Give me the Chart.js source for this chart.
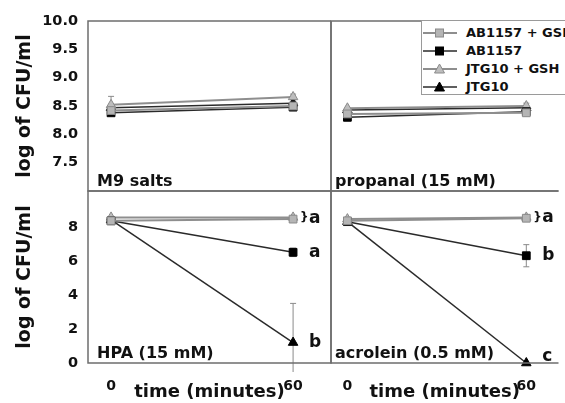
<!DOCTYPE html>
<html>
<head>
<meta charset="utf-8">
<script src="https://cdn.jsdelivr.net/npm/chart.js@4.4.1/dist/chart.umd.min.js"></script>
<style>
  body { margin: 0; background: #fff; }
  #wrap { position: relative; width: 565px; height: 403px; overflow: hidden; background: #fff; }
  #wrap canvas { position: absolute; left: 0; top: 0; }
  #legend {
    position: absolute; left: 421px; top: 20px; width: 170px; height: 75px;
    border: 1px solid #9a9a9a; background: #fff; padding-top: 3px; box-sizing: border-box;
    font: bold 13px "DejaVu Sans", sans-serif; color: #111;
  }
  #legend .row { position: relative; height: 18px; }
  #legend svg { position: absolute; left: 0; top: 0; }
  #legend span { position: absolute; left: 44px; top: 1px; white-space: nowrap; }
</style>
</head>
<body>
<div id="wrap">
  <canvas id="m9" width="565" height="403"></canvas>
  <canvas id="propanal" width="565" height="403"></canvas>
  <canvas id="hpa" width="565" height="403"></canvas>
  <canvas id="acrolein" width="565" height="403"></canvas>
  <div id="legend"></div>
</div>
<script>
// data: log CFU/ml at 0 and 60 minutes
const seriesNames = ['AB1157 + GSH', 'AB1157', 'JTG10 + GSH', 'JTG10'];
const times = [0, 60];

const m9Values = [[8.42, 8.50], [8.38, 8.48], [8.52, 8.66], [8.47, 8.55]];
const m9Errors = [[0, 0], [0, 0], [0.15, 0.05], [0, 0]];

const propanalValues = [[8.36, 8.38], [8.30, 8.40], [8.46, 8.50], [8.43, 8.47]];
const propanalErrors = [[0, 0], [0, 0], [0, 0.05], [0, 0]];

const hpaValues = [[8.35, 8.45], [8.35, 6.5], [8.55, 8.55], [8.4, 1.2]];
const hpaErrors = [[0, 0], [0, 0.25], [0, 0], [0, 2.3]];

const acroleinValues = [[8.35, 8.5], [8.3, 6.3], [8.45, 8.55], [8.3, 0]];
const acroleinErrors = [[0, 0], [0, 0.65], [0, 0], [0, 0]];

const hpaNoteText = ['} a', 'a', 'b'];
const hpaNoteY = [8.5, 6.5, 1.2];
const acroleinNoteText = ['} a', 'b', 'c'];
const acroleinNoteY = [8.55, 6.3, 0.4];

const topTicks = [7.5, 8.0, 8.5, 9.0, 9.5, 10.0];
const bottomTicks = [0, 2, 4, 6, 8];
const timeTicks = [0, 60];

const FONT = 'DejaVu Sans';
const INK = '#111';

const seriesStyle = [
  { line: '#8e8e8e', fill: '#b5b5b5', edge: '#8a8a8a', shape: 'rect', width: 2 },
  { line: '#2a2a2a', fill: '#000', edge: '#000', shape: 'rect', width: 1.5 },
  { line: '#8e8e8e', fill: '#bdbdbd', edge: '#8a8a8a', shape: 'triangle', width: 2 },
  { line: '#2a2a2a', fill: '#000', edge: '#000', shape: 'triangle', width: 1.5 },
];

// borders, error bars, panel name and letters
const panelPlugin = {
  id: 'panel',
  beforeDatasetsDraw(chart, args, opts) {
    const { ctx, chartArea: a, scales: { x, y } } = chart;
    ctx.save();
    ctx.strokeStyle = '#8a8a8a';
    ctx.lineWidth = 1;
    chart.data.datasets.forEach(ds => {
      ds.err.forEach((e, i) => {
        if (!e) return;
        const px = x.getPixelForValue(ds.data[i].x);
        const top = y.getPixelForValue(ds.data[i].y + e);
        const bot = Math.min(y.getPixelForValue(ds.data[i].y - e), a.bottom + 9);
        ctx.beginPath();
        ctx.moveTo(px, top); ctx.lineTo(px, bot);
        ctx.moveTo(px - 3, top); ctx.lineTo(px + 3, top);
        if (bot < a.bottom) { ctx.moveTo(px - 3, bot); ctx.lineTo(px + 3, bot); }
        ctx.stroke();
      });
    });
    ctx.restore();
  },
  afterDraw(chart, args, opts) {
    const { ctx, chartArea: a, scales: { x, y } } = chart;
    ctx.save();
    ctx.strokeStyle = '#6e6e6e';
    ctx.lineWidth = 1.5;
    ctx.beginPath();
    ctx.moveTo(a.right, a.top); ctx.lineTo(a.left, a.top);
    ctx.lineTo(a.left, a.bottom); ctx.lineTo(a.right, a.bottom);
    if (opts.closedRight) ctx.lineTo(a.right, a.top);
    ctx.stroke();

    ctx.fillStyle = INK;
    ctx.font = `bold 16px "${FONT}"`;
    ctx.textBaseline = 'alphabetic';
    ctx.fillText(opts.name, a.left + opts.nameDx, a.bottom - 5);

    ctx.textBaseline = 'middle';
    const px = x.getPixelForValue(60);
    (opts.noteText || []).forEach((t, i) => {
      const py = y.getPixelForValue(opts.noteY[i]);
      let label = t;
      if (t.startsWith('}')) {
        ctx.font = `bold 12px "${FONT}"`;
        ctx.fillText('}', px + 7, py);
        label = t.slice(1).trim();
      }
      ctx.font = `bold 17px "${FONT}"`;
      ctx.fillText(label, px + 16, py);
    });
    ctx.restore();
  }
};

function makePanel(id, cfg) {
  const datasets = seriesNames.map((name, s) => ({
    label: name,
    data: times.map((t, i) => ({ x: t, y: cfg.values[s][i] })),
    err: cfg.errors[s],
    borderColor: seriesStyle[s].line,
    borderWidth: seriesStyle[s].width,
    pointStyle: seriesStyle[s].shape,
    pointRadius: 5.5,
    pointBackgroundColor: seriesStyle[s].fill,
    pointBorderColor: seriesStyle[s].edge,
    pointBorderWidth: 1,
    tension: 0,
    clip: false,
  }));

  new Chart(document.getElementById(id), {
    type: 'line',
    data: { datasets },
    plugins: [panelPlugin],
    options: {
      responsive: false,
      animation: false,
      devicePixelRatio: 1,
      layout: { padding: cfg.padding },
      plugins: {
        legend: { display: false },
        tooltip: { enabled: false },
        panel: { name: cfg.name, nameDx: cfg.nameDx, closedRight: cfg.closedRight,
                 noteText: cfg.noteText, noteY: cfg.noteY },
      },
      scales: {
        x: {
          type: 'linear',
          display: cfg.showX,
          min: cfg.xMin, max: cfg.xMax,
          afterBuildTicks: s => { s.ticks = timeTicks.map(v => ({ value: v })); },
          afterFit: s => { if (cfg.showX) s.height = 40; },
          grid: { display: false, drawTicks: false },
          border: { display: false },
          ticks: { color: INK, padding: 15, font: { family: FONT, weight: 'bold', size: 14 } },
          title: { display: true, text: 'time (minutes)', color: INK, padding: 0,
                   font: { family: FONT, weight: 'bold', size: 18 } },
        },
        y: {
          display: cfg.showY,
          min: cfg.yMin, max: cfg.yMax,
          afterBuildTicks: s => { s.ticks = cfg.ticks.map(v => ({ value: v })); },
          afterFit: s => { if (cfg.showY) s.width = 88; },
          grid: { display: false, drawTicks: false },
          border: { display: false },
          ticks: { color: INK, padding: 10, callback: cfg.fmt,
                   font: { family: FONT, weight: 'bold', size: 14.5 } },
          title: { display: true, text: 'log of CFU/ml', color: INK, padding: { top: 14, bottom: 0 },
                   font: { family: FONT, weight: 'bold', size: 19 } },
        },
      },
    },
  });
}

const oneDecimal = v => v.toFixed(1);
const whole = v => String(v);

makePanel('m9', {
  values: m9Values, errors: m9Errors, name: 'M9 salts', nameDx: 9, closedRight: true,
  padding: { left: 0, top: 21, right: 234, bottom: 212 },
  showX: false, showY: true, xMin: -7.6, xMax: 72.5, yMin: 7, yMax: 10, ticks: topTicks, fmt: oneDecimal,
});
makePanel('propanal', {
  values: propanalValues, errors: propanalErrors, name: 'propanal (15 mM)', nameDx: 4, closedRight: false,
  padding: { left: 331, top: 21, right: 0, bottom: 212 },
  showX: false, showY: false, xMin: -5.5, xMax: 70.8, yMin: 7, yMax: 10, ticks: topTicks, fmt: oneDecimal,
});
makePanel('hpa', {
  values: hpaValues, errors: hpaErrors, name: 'HPA (15 mM)', nameDx: 9, closedRight: true,
  noteText: hpaNoteText, noteY: hpaNoteY,
  padding: { left: 0, top: 191, right: 234, bottom: 0 },
  showX: true, showY: true, xMin: -7.6, xMax: 72.5, yMin: 0, yMax: 10.1, ticks: bottomTicks, fmt: whole,
});
makePanel('acrolein', {
  values: acroleinValues, errors: acroleinErrors, name: 'acrolein (0.5 mM)', nameDx: 4, closedRight: false,
  noteText: acroleinNoteText, noteY: acroleinNoteY,
  padding: { left: 331, top: 191, right: 0, bottom: 0 },
  showX: true, showY: false, xMin: -5.5, xMax: 70.8, yMin: 0, yMax: 10.1, ticks: bottomTicks, fmt: whole,
});

// legend box in the upper right panel
const legend = document.getElementById('legend');
seriesNames.forEach((name, s) => {
  const st = seriesStyle[s];
  const marker = st.shape === 'rect'
    ? `<rect x="13.5" y="5" width="8" height="8" fill="${st.fill}" stroke="${st.edge}"/>`
    : `<polygon points="17.5,4 22.5,13 12.5,13" fill="${st.fill}" stroke="${st.edge}"/>`;
  const row = document.createElement('div');
  row.className = 'row';
  row.innerHTML = `<svg width="38" height="18"><line x1="1" y1="9" x2="35" y2="9" stroke="${st.line}" stroke-width="${st.width}"/>${marker}</svg><span>${name}</span>`;
  legend.appendChild(row);
});
</script>
</body>
</html>
